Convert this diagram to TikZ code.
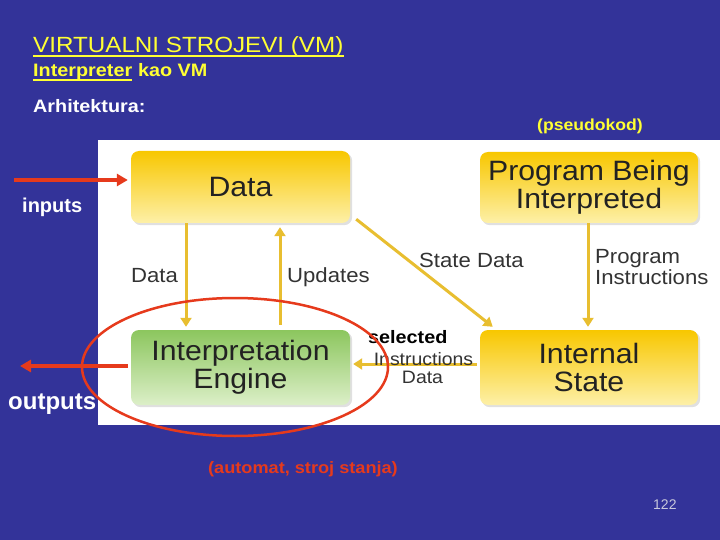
\documentclass[tikz,border=0pt]{standalone}
\usepackage{fontspec}
\setmainfont{Liberation Sans}
\newfontfamily\hdf[FakeStretch=1.1]{Liberation Sans}
\newfontfamily\dgf[FakeStretch=1.08]{Liberation Sans}
\usetikzlibrary{arrows.meta,shapes.geometric,calc,backgrounds}
\definecolor{bg}{HTML}{333399}
\definecolor{ttl}{HTML}{FFFF33}
\definecolor{gold}{HTML}{E8BE30}
\definecolor{ylt}{HTML}{F8C700}
\definecolor{ylb}{HTML}{FDF0A8}
\definecolor{grt}{HTML}{8CC65E}
\definecolor{grb}{HTML}{DCEFC8}
\definecolor{rd}{HTML}{E63A1C}
\definecolor{dtxt}{HTML}{222222}
\definecolor{ltxt}{HTML}{333333}
\definecolor{pg}{HTML}{C8C8DC}
\begin{document}
\begin{tikzpicture}[x=1pt,y=-1pt,
 txt/.style={inner sep=0pt, anchor=base west},
 ybox/.style={rounded corners=8pt, top color=ylt, bottom color=ylb, minimum width=219pt, text=dtxt, font=\dgf\fontsize{28}{28}\selectfont, align=center, inner sep=0pt},
 gbox/.style={ybox, top color=grt, bottom color=grb},
 shadowbox/.style={fill=black, opacity=0.12, rounded corners=8pt},
 lbl/.style={inner sep=0pt, anchor=base west, text=ltxt, font=\dgf\fontsize{20.5}{20.5}\selectfont},
 slbl/.style={inner sep=0pt, anchor=base, text=ltxt, font=\dgf\fontsize{18}{18}\selectfont},
 garrow/.style={draw=gold, line width=3pt, -{Triangle[width=11pt,length=9pt]}},
 rarrow/.style={draw=rd, line width=4pt, -{Triangle[width=12pt,length=11pt]}},
]
\useasboundingbox (0,0) rectangle (720,540);

% boxes
\node[ybox, minimum height=72pt] (data) at (240.5,187) {\color{dtxt}Data};
\node[ybox, minimum height=71pt, minimum width=218pt] (prog) at (589,187.5) {\color{dtxt}Program Being\\\color{dtxt}Interpreted};
\node[gbox, minimum height=75pt] (engine) at (240.5,367.5) {\color{dtxt}Interpretation\\\color{dtxt}Engine};
\node[ybox, minimum height=75pt, minimum width=218pt] (state) at (589,367.5) {\color{dtxt}Internal\\\color{dtxt}State};

\begin{scope}[on background layer]
\fill[bg] (0,0) rectangle (720,540);
\fill[white] (98,140) rectangle (720,425);
\foreach \b in {data,prog,engine,state}
  \fill[shadowbox] ($(\b.north west)+(2,2)$) rectangle ($(\b.south east)+(2,2)$);
\end{scope}

% header
\node[txt, text=ttl, font=\hdf\fontsize{22}{22}\selectfont] (title) at (33,53) {VIRTUALNI STROJEVI (VM)};
\draw[ttl, line width=1.6pt] ($(title.base west)+(0,2.8)$) -- ($(title.base east)+(0,2.8)$);
\node[txt, text=ttl, font=\hdf\bfseries\fontsize{18}{18}\selectfont] (interp) at (33,77) {Interpreter};
\draw[ttl, line width=1.6pt] ($(interp.base west)+(0,3)$) -- ($(interp.base east)+(0,3)$);
\node[txt, text=ttl, font=\hdf\bfseries\fontsize{18}{18}\selectfont] (kao) at ($(interp.base east)+(5.5,0)$) {kao VM};
\node[txt, text=white, font=\hdf\bfseries\fontsize{18}{18}\selectfont] (arh) at (33,113) {Arhitektura:};
\node[txt, text=ttl, font=\hdf\bfseries\fontsize{16}{16}\selectfont] (pseudo) at (537,131) {(pseudokod)};

% gold connectors
\coordinate (c1) at (186,0);
\coordinate (c2) at (280,0);
\coordinate (c3) at (588,0);
\coordinate (c4) at (0,364);
\draw[garrow, shorten >=3pt] (c1 |- data.south) -- (c1 |- engine.north);
\draw[garrow, shorten <=5pt, shorten >=4pt] (c2 |- engine.north) -- (c2 |- data.south);
\draw[garrow, shorten >=3pt] (c3 |- prog.south) -- (c3 |- state.north);
\draw[garrow] ($(data.south east)+(6,-4)$) -- ($(state.north west)+(13,-3)$);
\draw[garrow, shorten <=3pt, shorten >=3pt] (c4 -| state.west) -- (c4 -| engine.east);

% labels
\node[lbl] (ldata) at (131,282) {Data};
\node[lbl] (lupd) at (287,282) {Updates};
\node[lbl] (lsd) at (419,267) {State Data};
\node[lbl] (lpi1) at (595,263) {Program};
\node[lbl] (lpi2) at (595,284) {Instructions};
\node[slbl] (lid1) at (423.5,365) {Instructions};
\node[slbl] (lid2) at (422.5,383) {Data};
\node[txt, text=black, font=\hdf\bfseries\fontsize{18}{18}\selectfont] (sel) at (368,343) {selected};

% red overlay
\node[draw=rd, line width=2.5pt, ellipse, minimum width=306pt, minimum height=138pt, inner sep=0pt] (ring) at (235,367) {};
\coordinate (inS) at (14,180);
\coordinate (outE) at (20,366);
\draw[rarrow, shorten >=3pt] (inS) -- (inS -| data.west);
\draw[rarrow, shorten <=3pt] (outE -| engine.west) -- (outE);
\node[txt, text=white, font=\bfseries\fontsize{20}{20}\selectfont] (inp) at (22,212) {inputs};
\node[txt, text=white, font=\bfseries\fontsize{24}{24}\selectfont] (outp) at (8,409) {outputs};
\node[txt, text=rd, font=\hdf\bfseries\fontsize{16.5}{16.5}\selectfont] (automat) at (208,473) {(automat, stroj stanja)};
\node[txt, text=pg, font=\fontsize{14}{14}\selectfont] (pnum) at (653,509) {122};
\end{tikzpicture}
\end{document}
